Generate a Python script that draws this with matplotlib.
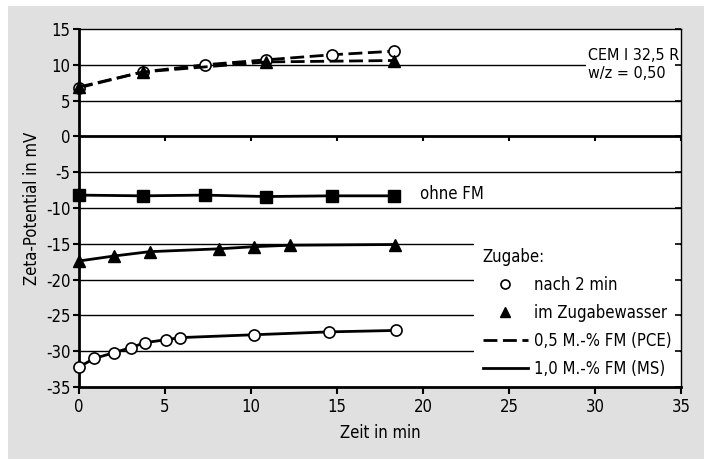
import matplotlib
matplotlib.use('Agg')
import matplotlib.pyplot as plt
from matplotlib.lines import Line2D
from matplotlib.patches import Rectangle

plt.rcParams['font.family'] = ['Liberation Sans Narrow', 'DejaVu Sans']
plt.rcParams['font.stretch'] = 'condensed'
plt.rcParams['font.size'] = 12
plt.rcParams['axes.unicode_minus'] = False

# 0,5 M.-% FM (PCE) - gestrichelt
pce_kreis_t = [0, 3.7, 7.3, 10.9, 14.7, 18.3]
pce_kreis_z = [6.8, 9.0, 10.0, 10.7, 11.4, 11.9]
pce_drei_t = [0, 3.7, 10.9, 18.3]
pce_drei_z = [6.9, 9.0, 10.4, 10.6]

# ohne FM
ohne_t = [0, 3.7, 7.3, 10.9, 14.7, 18.3]
ohne_z = [-8.2, -8.3, -8.2, -8.4, -8.3, -8.3]

# 1,0 M.-% FM (MS) - durchgezogen
ms_drei_t = [0, 2.05, 4.1, 8.15, 10.2, 12.25, 18.35]
ms_drei_z = [-17.4, -16.7, -16.1, -15.7, -15.4, -15.2, -15.1]
ms_kreis_t = [0, 0.9, 2.05, 3.0, 3.85, 5.05, 5.9, 10.2, 14.55, 18.45]
ms_kreis_z = [-32.2, -31.0, -30.2, -29.5, -28.8, -28.4, -28.1, -27.7, -27.3, -27.1]

x_ticks = [0, 5, 10, 15, 20, 25, 30, 35]
y_ticks = [15, 10, 5, 0, -5, -10, -15, -20, -25, -30, -35]

grau = '#e0e0e0'
fig = plt.figure(figsize=(7.04, 4.59), dpi=100, facecolor=grau)
fig.patches.append(Rectangle((0, 0), 1, 1, transform=fig.transFigure, facecolor='white', zorder=-3))
fig.patches.append(Rectangle((8/704, 0), 1, (459-6)/459, transform=fig.transFigure, facecolor=grau, zorder=-2))
ax = fig.add_axes([79/704, 72/459, 602/704, 358/459])
ax.set_facecolor('white')

# Gitterlinien
for y in y_ticks[1:-1]:
    lw = 2.0 if y == 0 else 1.0
    ax.axhline(y, color='black', lw=lw, zorder=1)
ax.vlines(x_ticks, 0, -0.6, color='black', lw=1.5, zorder=1)

ms = 8
ax.plot(pce_kreis_t, pce_kreis_z, '--', color='black', lw=2, dashes=(5, 2),
        marker='o', ms=ms, mfc='white', mec='black', mew=1.2, zorder=3, clip_on=False)
ax.plot(pce_drei_t, pce_drei_z, '--', color='black', lw=2, dashes=(5, 2),
        marker='^', ms=ms, mfc='black', mec='black', zorder=4, clip_on=False)
ax.plot(ohne_t, ohne_z, '-', color='black', lw=2, marker='s', ms=ms, mfc='black', zorder=3, clip_on=False)
ax.plot(ms_drei_t, ms_drei_z, '-', color='black', lw=2, marker='^', ms=ms, mfc='black', zorder=3, clip_on=False)
ax.plot(ms_kreis_t, ms_kreis_z, '-', color='black', lw=2, marker='o', ms=ms,
        mfc='white', mec='black', mew=1.2, zorder=3, clip_on=False)

ax.set_xlim(0, 35)
ax.set_ylim(-35, 15)
ax.set_xticks(x_ticks)
ax.set_yticks(y_ticks)
ax.tick_params(axis='x', direction='out', length=5, width=1.5, pad=3)
ax.tick_params(axis='y', direction='out', length=4, width=1.5, pad=2)
for s in ['left', 'bottom']:
    ax.spines[s].set_linewidth(2)
for s in ['top', 'right']:
    ax.spines[s].set_linewidth(1)
    ax.spines[s].set_zorder(6)

ax2 = ax.twinx()
ax2.set_ylim(-35, 15)
ax2.set_yticks(y_ticks)
ax2.tick_params(axis='y', direction='in', length=4, width=1.2, labelright=False)
for s in ax2.spines.values():
    s.set_visible(False)

ax.set_xlabel('Zeit in min', labelpad=6)
ax.set_ylabel('Zeta-Potential in mV', labelpad=4)

ax.text(19.8, -8.0, 'ohne FM', va='center', ha='left')
ax.text(29.6, 10.0, 'CEM I 32,5 R\nw/z = 0,50', va='center', ha='left', linespacing=1.25,
        fontsize=11.5, bbox=dict(facecolor='white', edgecolor='none', pad=1.5), zorder=5)

handles = [
    Line2D([], [], ls='none', marker='o', ms=6.5, mfc='white', mec='black', mew=1.2),
    Line2D([], [], ls='none', marker='^', ms=6.5, mfc='black', mec='black'),
    Line2D([], [], ls='--', color='black', lw=2, dashes=(5, 2)),
    Line2D([], [], ls='-', color='black', lw=2),
]
labels = ['nach 2 min', 'im Zugabewasser', '0,5 M.-% FM (PCE)', '1,0 M.-% FM (MS)']
leg = ax.legend(handles, labels, title='Zugabe:', loc='lower right', alignment='left',
                bbox_to_anchor=(1.0, 0.0), frameon=True, facecolor='white', edgecolor='none',
                framealpha=1, fancybox=False, borderaxespad=0.05, handlelength=2.75,
                handletextpad=0.35, labelspacing=0.6, borderpad=0.5, title_fontsize=12)
leg.set_zorder(5)

plt.savefig('out.png', dpi=100, facecolor=grau)
